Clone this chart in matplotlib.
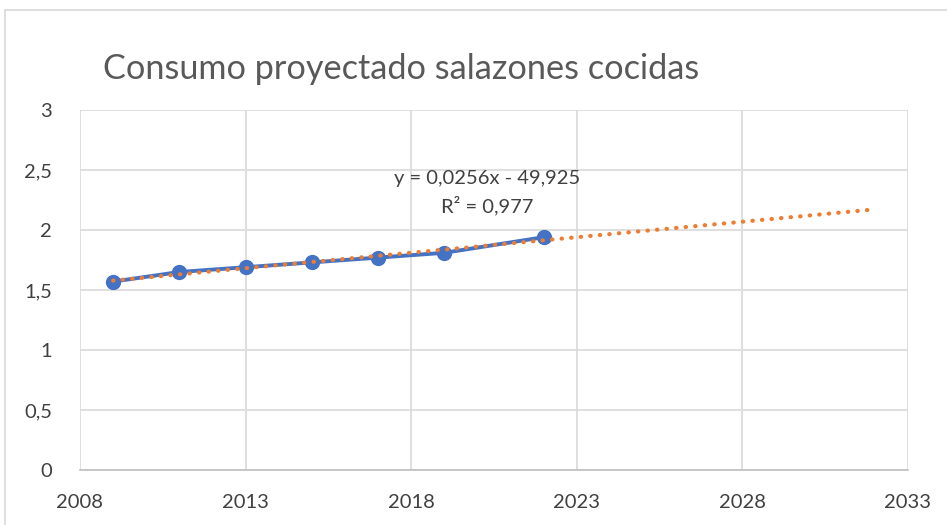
import numpy as np
import matplotlib.pyplot as plt

# data
years = [2009, 2011, 2013, 2015, 2017, 2019, 2022]
consumo = [1.57, 1.65, 1.69, 1.73, 1.77, 1.81, 1.94]
x_ticks = [2008, 2013, 2018, 2023, 2028, 2033]
y_ticks = [0, 0.5, 1, 1.5, 2, 2.5, 3]
y_labels = ["0", "0,5", "1", "1,5", "2", "2,5", "3"]
trend_end = 2031.8

plt.rcParams['font.family'] = ['Lato', 'DejaVu Sans']

fig = plt.figure(figsize=(9.47, 5.25), dpi=100)
ax = fig.add_axes([80/947, 1-470/525, 828/947, 360/525])

# linear trendline (Excel-style least squares, forecast forward)
m, b = np.polyfit(years, consumo, 1)
tx = np.array([years[0], trend_end])

ax.plot(years, consumo, color="#4472C4", lw=2.8, marker="o", ms=10,
        zorder=3)
ax.plot(tx, m*tx + b, color="#ED7D31", lw=3, linestyle=(0, (0.1, 2.2)),
        dash_capstyle="round", zorder=4)

ax.text(2020.3, 2.43, "y = 0,0256x - 49,925", ha="center", va="center",
        fontsize=14.5, color="#404040")
ax.text(2020.3, 2.2, "R² = 0,977", ha="center", va="center",
        fontsize=14.5, color="#404040")

ax.set_xlim(2008, 2033)
ax.set_ylim(0, 3)
ax.set_xticks(x_ticks)
ax.set_yticks(y_ticks)
ax.set_yticklabels(y_labels)
ax.grid(True, color="#d9d9d9", lw=1.2)
ax.set_axisbelow(True)
for s in ["top", "right", "left"]:
    ax.spines[s].set_visible(False)
ax.spines["bottom"].set_color("#bfbfbf")
ax.spines["bottom"].set_linewidth(1.2)
ax.tick_params(length=0, labelsize=14.5, labelcolor="#404040")
ax.tick_params(axis="x", pad=17)
ax.tick_params(axis="y", pad=20)

fig.text(103/947, 1-69/525, "Consumo proyectado salazones cocidas",
         fontsize=24.7, color="#595959", va="center", ha="left")

# chart border
border = plt.Rectangle((5/947, -0.1), 1.2, 1-10/525+0.1, transform=fig.transFigure,
                       fill=False, edgecolor="#d9d9d9", lw=1.2)
fig.patches.append(border)

fig.savefig("out.png", dpi=100)
